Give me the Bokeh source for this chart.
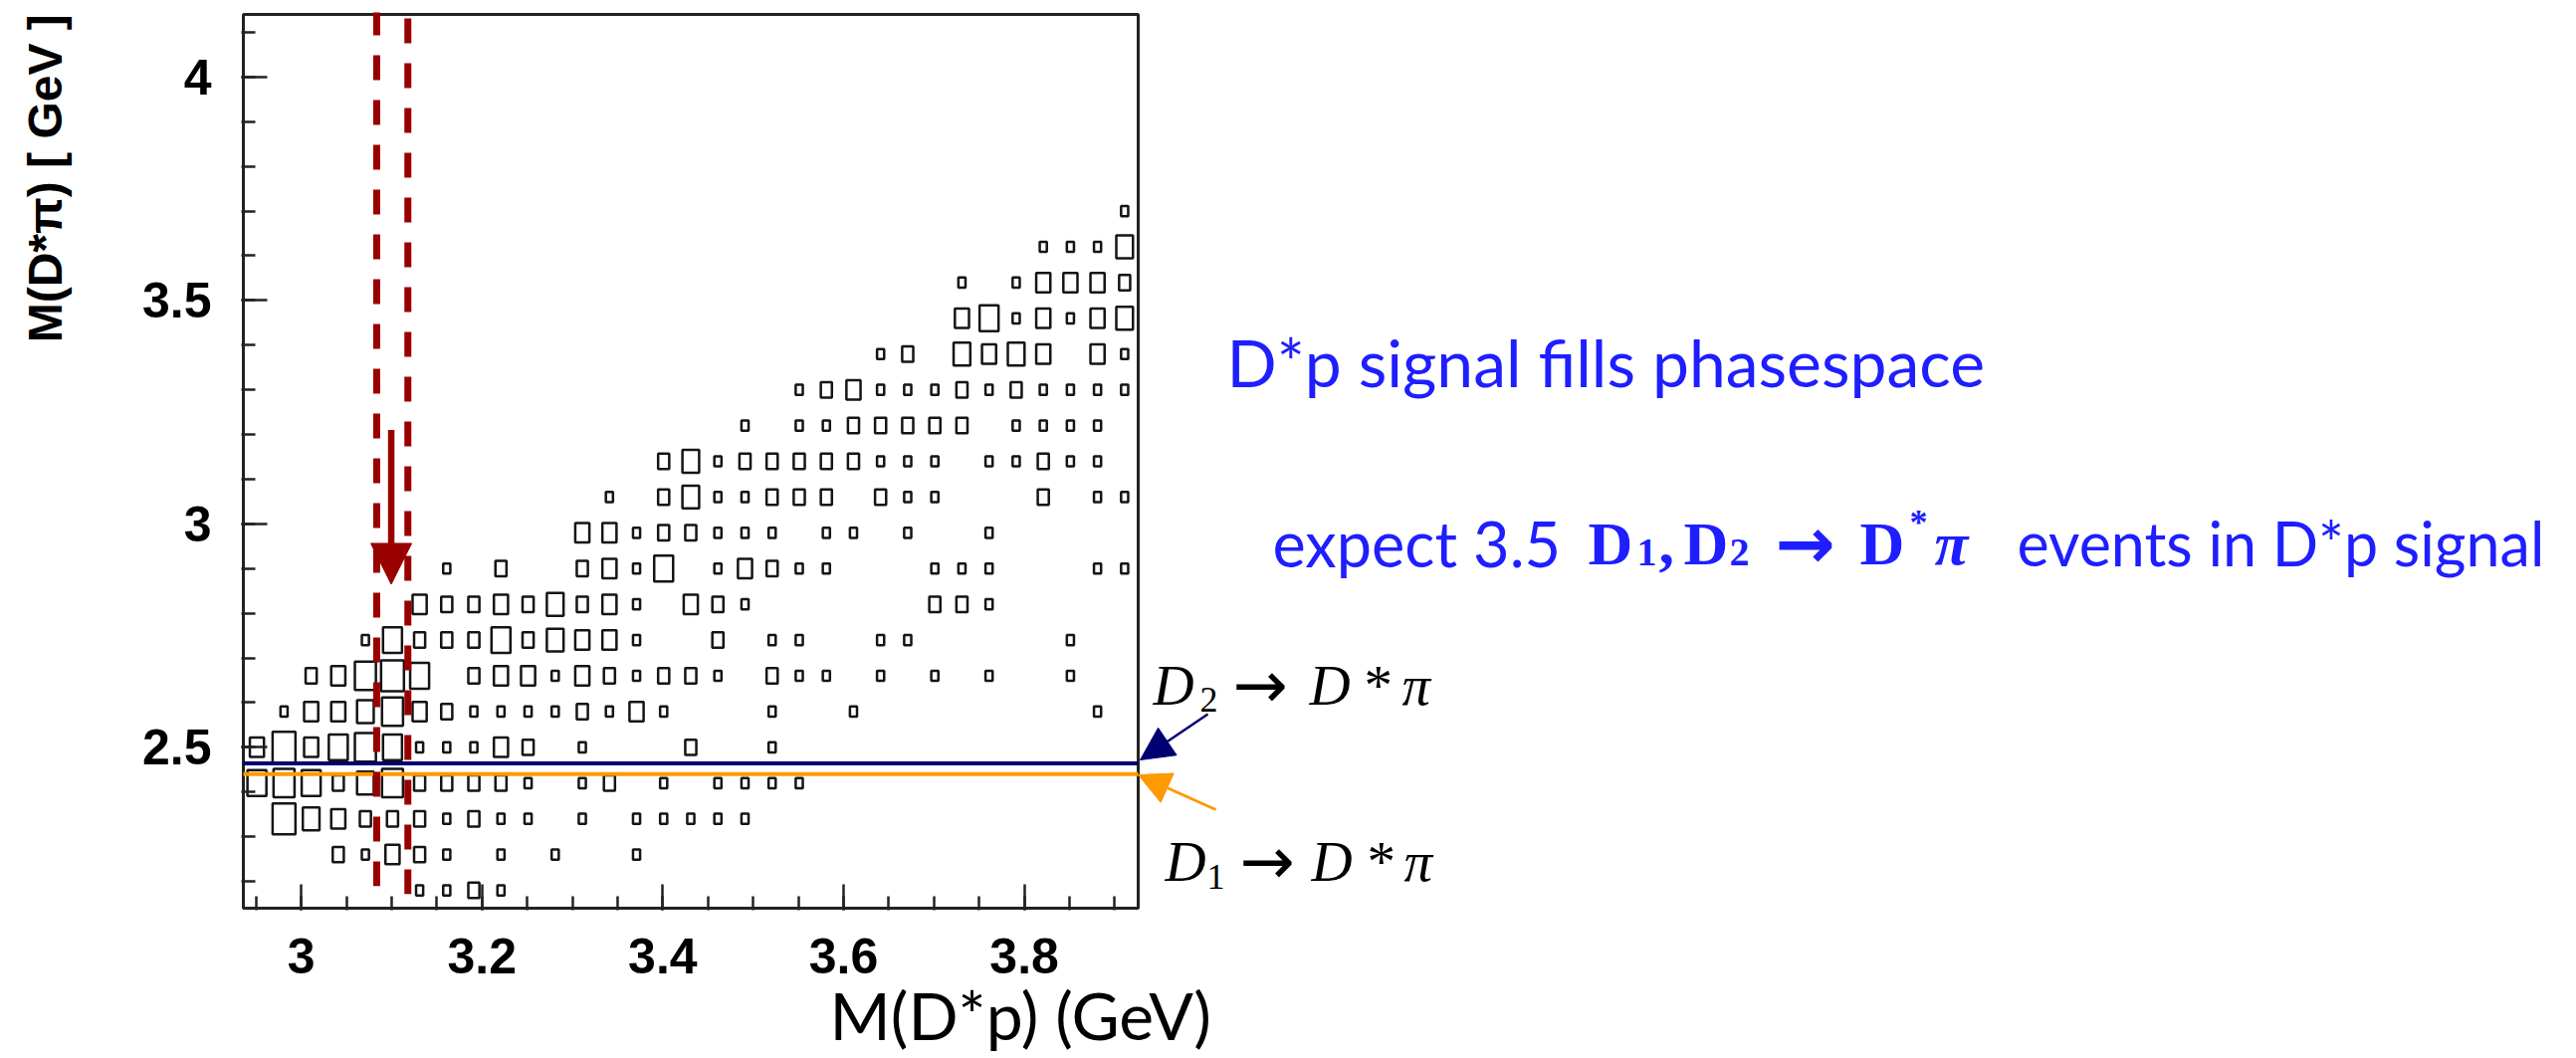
import math

from bokeh.core.properties import value
from bokeh.embed import file_html
from bokeh.layouts import row
from bokeh.models import Arrow, FixedTicker, Label, NormalHead, Title
from bokeh.plotting import figure
from bokeh.resources import INLINE

# ---- histogram binning -------------------------------------------------
X_LO, X_BIN, NX = 2.936, 0.03, 33      # M(D*p) [GeV]
Y_LO, Y_BIN, NY = 2.14, 0.08, 25       # M(D*pi) [GeV]

# entries per cell; one dict per M(D*pi) bin (lowest first), {M(D*p) bin: entries}
cells = [
    {6: 1, 7: 1, 8: 2, 9: 1},
    {3: 2, 4: 1, 5: 3, 6: 2, 7: 1, 9: 1, 11: 1, 14: 1},
    {1: 7, 2: 4, 3: 3, 4: 2, 5: 2, 6: 2, 7: 1, 8: 2, 9: 1, 10: 1, 12: 1, 14: 1,
     15: 1, 16: 1, 17: 1, 18: 1},
    {0: 5, 1: 6, 2: 5, 3: 2, 4: 4, 5: 6, 6: 2, 7: 2, 8: 2, 9: 2, 10: 1, 12: 1,
     13: 2, 15: 1, 17: 1, 18: 1, 19: 1, 20: 1},
    {0: 3, 1: 7, 2: 3, 3: 5, 4: 6, 5: 5, 6: 1, 7: 1, 8: 1, 9: 3, 10: 2, 12: 1,
     16: 2, 19: 1},
    {1: 1, 2: 3, 3: 3, 4: 4, 5: 6, 6: 3, 7: 2, 8: 1, 9: 1, 10: 1, 11: 1, 12: 2,
     13: 1, 14: 3, 15: 1, 19: 1, 22: 1, 31: 1},
    {2: 2, 3: 3, 4: 6, 5: 7, 6: 5, 8: 2, 9: 3, 10: 3, 11: 1, 12: 3, 13: 2, 14: 1,
     15: 2, 16: 2, 17: 1, 19: 2, 20: 1, 21: 1, 23: 1, 25: 1, 27: 1, 30: 1},
    {4: 1, 5: 5, 6: 2, 7: 2, 8: 2, 9: 5, 10: 2, 11: 4, 12: 3, 13: 3, 14: 1,
     17: 2, 19: 1, 20: 1, 23: 1, 24: 1, 30: 1},
    {6: 3, 7: 2, 8: 2, 9: 3, 10: 2, 11: 4, 12: 2, 13: 3, 14: 1, 16: 3, 17: 2,
     18: 1, 25: 2, 26: 2, 27: 1},
    {7: 1, 9: 2, 12: 2, 13: 3, 14: 1, 15: 5, 17: 1, 18: 3, 19: 2, 20: 1, 21: 1,
     25: 1, 26: 1, 27: 1, 31: 1, 32: 1},
    {12: 3, 13: 3, 14: 1, 15: 2, 16: 2, 17: 1, 18: 1, 19: 1, 21: 1, 22: 1,
     24: 1, 27: 1},
    {13: 1, 15: 2, 16: 4, 17: 1, 18: 1, 19: 2, 20: 2, 21: 2, 23: 2, 24: 1,
     25: 1, 29: 2, 31: 1, 32: 1},
    {15: 2, 16: 4, 17: 1, 18: 2, 19: 2, 20: 2, 21: 2, 22: 2, 23: 1, 24: 1,
     25: 1, 27: 1, 28: 1, 29: 2, 30: 1, 31: 1},
    {18: 1, 20: 1, 21: 1, 22: 2, 23: 2, 24: 2, 25: 2, 26: 2, 28: 1, 29: 1,
     30: 1, 31: 1},
    {20: 1, 21: 2, 22: 3, 23: 1, 24: 1, 25: 1, 26: 2, 27: 1, 28: 2, 29: 1,
     30: 1, 31: 1, 32: 1},
    {23: 1, 24: 2, 26: 4, 27: 3, 28: 4, 29: 3, 31: 3, 32: 1},
    {26: 3, 27: 5, 28: 1, 29: 3, 30: 1, 31: 3, 32: 4},
    {26: 1, 28: 1, 29: 3, 30: 3, 31: 3, 32: 2},
    {29: 1, 30: 1, 31: 1, 32: 4},
    {32: 1},
]
BOX_FULL = 8          # entries that would fill a whole cell

# ---- axis ticks and titles ------------------------------------------------
x_major = [3.0, 3.2, 3.4, 3.6, 3.8]
x_labels = ["3", "3.2", "3.4", "3.6", "3.8"]
x_minor = [2.95, 3.0, 3.05, 3.1, 3.15, 3.2, 3.25, 3.3, 3.35, 3.4, 3.45, 3.5,
           3.55, 3.6, 3.65, 3.7, 3.75, 3.8, 3.85, 3.9]
y_major = [2.5, 3.0, 3.5, 4.0]
y_labels = ["2.5", "3", "3.5", "4"]
y_minor = [2.2, 2.3, 2.4, 2.5, 2.6, 2.7, 2.8, 2.9, 3.0, 3.1, 3.2, 3.3, 3.4,
           3.5, 3.6, 3.7, 3.8, 3.9, 4.0, 4.1]
x_title = "M(D*p) (GeV)"
y_title = "M(D*π) [ GeV ]"

# ---- reference masses and signal window ---------------------------------
d2_mass = 2.464
d1_mass = 2.440
window_x = [3.0835, 3.118]
window_top = [4.149, 4.131]
window_bottom = [2.1895, 2.1716]
signal_mass = 3.0996
signal_arrow = [3.21, 2.865]     # from, to (M(D*pi))

# ---- page layout (pixels) --------------------------------------------------
W, H = 2588, 1063
STRIP_W = 130                    # left strip holding the vertical title
BOX_L, BOX_R, BOX_T, BOX_B = 244, 1143, 14, 912   # histogram box
FRAME_L, FRAME_T, FRAME_B = 242, 12, 914          # plotting area
X_HI = X_LO + NX * X_BIN
Y_HI = Y_LO + NY * Y_BIN
PXX = (BOX_R - BOX_L) / (X_HI - X_LO)     # pixels per GeV
PXY = (BOX_B - BOX_T) / (Y_HI - Y_LO)


def px_x(px):
    return X_LO + (px - BOX_L) / PXX


def px_y(py):
    return Y_HI - (py - BOX_T) / PXY


p = figure(width=W - STRIP_W, height=H,
           x_range=(px_x(FRAME_L), px_x(W)), y_range=(px_y(FRAME_B), px_y(FRAME_T)),
           output_backend="svg", toolbar_location=None, title=None,
           min_border_left=FRAME_L - STRIP_W, min_border_right=0,
           min_border_top=FRAME_T, min_border_bottom=H - FRAME_B)
p.grid.visible = False
p.background_fill_color = "white"
p.border_fill_color = "white"
p.outline_line_color = None

# ---- box histogram -----------------------------------------------------
STROKE = 2.5
sx = STROKE / PXX
sy = STROKE / PXY
bx, by, bw, bh = [], [], [], []
for j, cells_row in enumerate(cells):
    for i, n in cells_row.items():
        f = math.sqrt(n / BOX_FULL)
        bx.append(X_LO + (i + 0.5) * X_BIN)
        by.append(Y_LO + (j + 0.5) * Y_BIN)
        bw.append(X_BIN * f - sx)
        bh.append(Y_BIN * f - sy)
p.rect(x=bx, y=by, width=bw, height=bh, fill_color=None,
       line_color="#151515", line_width=STROKE)

# histogram frame
p.quad(left=[X_LO], right=[X_HI], bottom=[Y_LO], top=[Y_HI], fill_color=None,
       line_color="#222222", line_width=3)

# ---- D1 / D2 reference lines --------------------------------------------
p.segment(x0=[X_LO], y0=[d2_mass], x1=[X_HI], y1=[d2_mass],
          line_color="#000070", line_width=4)
p.segment(x0=[X_LO], y0=[d1_mass], x1=[X_HI], y1=[d1_mass],
          line_color="#ff9900", line_width=4)

# ---- signal window -----------------------------------------------------
p.segment(x0=window_x, y0=window_top, x1=window_x, y1=window_bottom,
          line_color="#990000", line_width=7, line_dash="25 20")
p.add_layout(Arrow(end=NormalHead(size=41, fill_color="#990000",
                                  line_color="#990000", line_width=1),
                   x_start=signal_mass, y_start=signal_arrow[0],
                   x_end=signal_mass, y_end=signal_arrow[1],
                   line_color="#990000", line_width=6.5))

# ---- axes --------------------------------------------------------------
p.xaxis.ticker = FixedTicker(ticks=x_major, minor_ticks=x_minor)
p.xaxis.major_label_overrides = dict(zip(x_major, x_labels))
p.yaxis.ticker = FixedTicker(ticks=y_major, minor_ticks=y_minor)
p.yaxis.major_label_overrides = dict(zip(y_major, y_labels))
for ax in (p.xaxis[0], p.yaxis[0]):
    ax.axis_line_color = None
    ax.major_tick_in = 26
    ax.major_tick_out = 0
    ax.minor_tick_in = 14
    ax.minor_tick_out = 0
    ax.major_tick_line_color = "#222222"
    ax.minor_tick_line_color = "#222222"
    ax.major_tick_line_width = 2.5
    ax.minor_tick_line_width = 2.5
    ax.major_label_text_font = "Liberation Sans"
    ax.major_label_text_font_style = "bold"
    ax.major_label_text_font_size = "50px"
    ax.major_label_text_color = "black"
p.xaxis.major_label_standoff = 28
p.yaxis.major_label_standoff = 30

p.add_layout(Title(text=x_title, align="left", offset=833 - FRAME_L,
                   vertical_align="top", standoff=-2,
                   text_font="Lato", text_font_size="66px",
                   text_font_style="normal", text_color="black"), "below")


def add_text(x, y, text, size, font="Lato", style="normal", color="black"):
    p.add_layout(Label(x=px_x(x), y=px_y(y), text=text,
                       text_font=font, text_font_size=f"{size}px",
                       text_font_style=style, text_color=color,
                       text_align="left", text_baseline="alphabetic"))


# D2 / D1 -> D* pi labels and their arrows
SERIF = "Liberation Serif"
ARROW_FONT = "DejaVu Sans"
for x, y, t, s, f, st in [(1158, 688, "D", 57, SERIF, "italic"),
                          (1205, 702, "2", 36, SERIF, "normal"),
                          (1238, 688, "→", 66, ARROW_FONT, "normal"),
                          (1315, 688, "D", 57, SERIF, "italic"),
                          (1370, 688, "*", 57, SERIF, "normal"),
                          (1408, 688, "π", 57, SERIF, "italic")]:
    add_text(x, y, t, s, font=f, style=st)
for x, y, t, s, f, st in [(1170, 865, "D", 57, SERIF, "italic"),
                          (1212, 880, "1", 36, SERIF, "normal"),
                          (1245, 865, "→", 66, ARROW_FONT, "normal"),
                          (1317, 865, "D", 57, SERIF, "italic"),
                          (1373, 865, "*", 57, SERIF, "normal"),
                          (1410, 865, "π", 57, SERIF, "italic")]:
    add_text(x, y, t, s, font=f, style=st)

p.add_layout(Arrow(end=NormalHead(size=33, fill_color="#000070",
                                  line_color="#000070", line_width=1),
                   x_start=px_x(1213), y_start=px_y(717),
                   x_end=px_x(1145), y_end=px_y(763),
                   line_color="#000070", line_width=2.5))
p.add_layout(Arrow(end=NormalHead(size=32, fill_color="#ff9900",
                                  line_color="#ff9900", line_width=1),
                   x_start=px_x(1221), y_start=px_y(813),
                   x_end=px_x(1143), y_end=px_y(778),
                   line_color="#ff9900", line_width=3))

# notes
BLUE = "#1e1eff"
add_text(1232, 363, "D*p signal fills phasespace", 66, color=BLUE)
add_text(1278, 545, "expect 3.5", 63, color=BLUE)
for x, y, t, s, f, st in [(1595, 545, "D", 62, SERIF, "bold"),
                          (1644, 554, "1", 40, SERIF, "bold"),
                          (1666, 545, ",", 62, SERIF, "bold"),
                          (1691, 545, "D", 62, SERIF, "bold"),
                          (1737, 554, "2", 40, SERIF, "bold"),
                          (1783, 545, "→", 72, ARROW_FONT, "bold"),
                          (1868, 545, "D", 62, SERIF, "bold"),
                          (1918, 524, "*", 36, SERIF, "bold"),
                          (1943, 545, "π", 62, SERIF, "bold italic")]:
    add_text(x, y, t, s, font=f, style=st, color=BLUE)
add_text(2026, 545, "events in D*p signal", 61, color=BLUE)

# ---- left strip with the vertical axis title -----------------------------
# anchor tuned so the rotated title runs from y~347 up to y~18, baseline x~65
strip = figure(width=STRIP_W, height=H, x_range=(0, STRIP_W), y_range=(0, H),
               output_backend="svg", toolbar_location=None, title=None,
               x_axis_location=None, y_axis_location=None, min_border=0)
strip.grid.visible = False
strip.outline_line_color = None
strip.background_fill_color = "white"
strip.border_fill_color = "white"
strip.text(x=[45], y=[H - 391], text=[y_title], angle=math.pi / 2,
           text_font=value("Liberation Sans"), text_font_style="bold",
           text_font_size="48px", text_color="black",
           text_align="left", text_baseline="alphabetic")

layout = row(strip, p, spacing=0)
open("out.html", "w").write(file_html(layout, INLINE))
